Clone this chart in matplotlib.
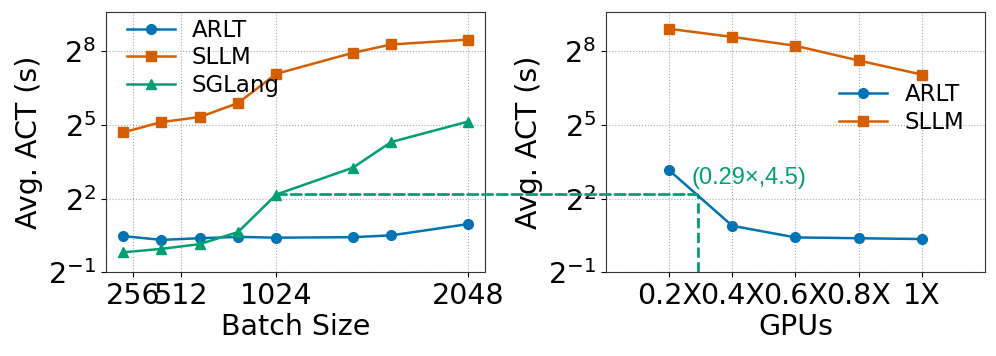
import math
import matplotlib.pyplot as plt
from matplotlib.patches import ConnectionPatch
from matplotlib.ticker import FixedLocator, NullLocator, FuncFormatter

# left panel: batch size sweep
batch = [204.8, 409.6, 614.4, 819.2, 1024, 1433.6, 1638.4, 2048]
batch_ticks = [256, 512, 1024, 2048]
arlt_batch = [1.39, 1.25, 1.31, 1.36, 1.33, 1.35, 1.42, 1.95]
sllm_batch = [26.0, 34.8, 40.1, 59.5, 136, 246, 311, 357]
sglang_batch = [0.88, 0.97, 1.11, 1.56, 4.5, 9.6, 19.8, 35.2]

# right panel: GPU fraction sweep
gpus = [0.2, 0.4, 0.6, 0.8, 1.0]
gpu_labels = ["0.2X", "0.4X", "0.6X", "0.8X", "1X"]
arlt_gpu = [8.93, 1.86, 1.34, 1.31, 1.28]
sllm_gpu = [484, 385, 300, 198, 133]

# crossover point
cross_x_batch = 1024
cross_x_gpu = 0.29
cross_y = 4.5

blue, orange, green = "#0173b2", "#d55e00", "#029e73"
plt.rcParams['font.family'] = 'DejaVu Sans'
FS = 20.5
LEG_FS = 16.5

fig = plt.figure(figsize=(9.96, 3.56), dpi=100)
ax1 = fig.add_axes([0.1064, 0.235, 0.3805, 0.731])
ax2 = fig.add_axes([0.6084, 0.235, 0.3805, 0.731])

log_fmt = FuncFormatter(lambda v, p: r"$2^{%d}$" % round(math.log2(v)))


def style(ax):
    ax.set_yscale("log", base=2)
    ax.set_ylim(2 ** -1, 2 ** 9.6)
    ax.yaxis.set_major_locator(FixedLocator([2 ** -1, 2 ** 2, 2 ** 5, 2 ** 8]))
    ax.yaxis.set_minor_locator(NullLocator())
    ax.yaxis.set_major_formatter(log_fmt)
    ax.grid(True, linestyle=":", color="#aaaaaa", linewidth=0.8)
    ax.tick_params(labelsize=FS)
    ax.set_ylabel("Avg. ACT (s)", fontsize=FS)
    for s in ax.spines.values():
        s.set_color("#333333")


kw = dict(linewidth=1.8, markersize=7)
ax1.plot(batch, arlt_batch, marker="o", color=blue, label="ARLT", **kw)
ax1.plot(batch, sllm_batch, marker="s", color=orange, label="SLLM", **kw)
ax1.plot(batch, sglang_batch, marker="^", color=green, label="SGLang", **kw)
ax1.set_xticks(batch_ticks)
ax1.set_xticklabels([str(b) for b in batch_ticks])
ax1.set_xlabel("Batch Size", fontsize=FS, labelpad=2)
style(ax1)
ax1.legend(loc="upper left", frameon=False, fontsize=LEG_FS, borderaxespad=0.0,
           handlelength=2.1, handletextpad=0.75, labelspacing=0.2,
           bbox_to_anchor=(0.03, 1.01))

ax2.plot(gpus, arlt_gpu, marker="o", color=blue, label="ARLT", **kw)
ax2.plot(gpus, sllm_gpu, marker="s", color=orange, label="SLLM", **kw)
ax2.set_xlim(0, 1.2)
ax2.set_xticks(gpus)
ax2.set_xticklabels(gpu_labels)
ax2.set_xlabel("GPUs", fontsize=FS, labelpad=2)
style(ax2)
ax2.legend(loc="center right", frameon=False, fontsize=LEG_FS, handlelength=2.1,
           handletextpad=0.75, labelspacing=0.2, bbox_to_anchor=(1.0, 0.63))

# dashed guide lines linking the two panels
con = ConnectionPatch(xyA=(cross_x_batch, cross_y), coordsA=ax1.transData,
                      xyB=(cross_x_gpu, cross_y), coordsB=ax2.transData,
                      linestyle="--", color=green, linewidth=2, zorder=1)
fig.add_artist(con)
ax2.plot([cross_x_gpu, cross_x_gpu], [2 ** -1, cross_y], linestyle="--",
         color=green, linewidth=2, zorder=1)
ax2.text(0.27, 5.3, "(0.29\u00d7,4.5)", color=green, fontsize=17,
         family="Liberation Sans", va="bottom", ha="left")

fig.savefig("out.png", dpi=100)
